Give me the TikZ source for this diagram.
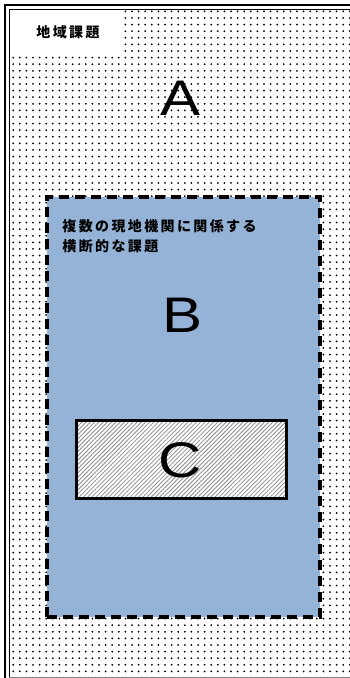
\documentclass[tikz,border=0pt]{standalone}
\usepackage{fontspec}
\setmainfont{Liberation Sans}
\newfontfamily\jpfont{Noto Sans CJK JP Black}
\usetikzlibrary{patterns.meta}
\definecolor{areablue}{RGB}{148,179,215}
\tikzset{
  letter/.style={font=\fontsize{50}{50}\selectfont, inner sep=0pt},
  jptext/.style={font=\jpfont\fontsize{14}{20}\selectfont\addfontfeature{LetterSpace=17}, inner sep=0pt, align=left},
}
\begin{document}
\begin{tikzpicture}[x=1pt, y=-1pt, thick]
        \useasboundingbox (0,0) rectangle (350,678);
        % dotted background and double frame
        \fill[white] (0,0) rectangle (350,678);
        \fill[pattern={Dots[distance=6.6pt, radius=1pt]}, pattern color=black] (10,10) rectangle (350,677);
        \draw[line width=2.2pt] (5,678)--(5,5)--(350,5);
        \draw[line width=0.9pt] (9,678)--(9,9)--(350,9);
        \draw[gray, line width=0.6pt] (9,677)--(350,677);
        \node[fill=white, minimum width=113pt, minimum height=43pt, inner sep=0pt] (titlebox) at (66.5,31.5) {};
        \node[jptext] (title) at (68,32) {地域課題};
        \node[letter, xscale=1.2] (A) at (181,98) {A};
        % region B
        \node[fill=areablue, draw, line width=3.4pt, dash pattern=on 10pt off 6pt, minimum width=273pt, minimum height=420pt, inner sep=0pt] (areaB) at (183.5,407) {};
        \node[jptext, anchor=north west] (Btext) at (62,219) {複数の現地機関に関係する\\横断的な課題};
        \node[letter, xscale=1.2] (B) at (183,315) {B};
        % region C
        \node[preaction={fill=white}, pattern={Lines[angle=45, distance=3pt, line width=0.8pt]}, pattern color=black!45, minimum width=209pt, minimum height=77pt, inner sep=0pt] (areaC) at (181.5,459.5) {};
        \draw[line width=2.8pt] (areaC.north west) rectangle (areaC.south east);
        \node[letter, xscale=1.2] (C) at (180.5,460.5) {C};
    \end{tikzpicture}
\end{document}
